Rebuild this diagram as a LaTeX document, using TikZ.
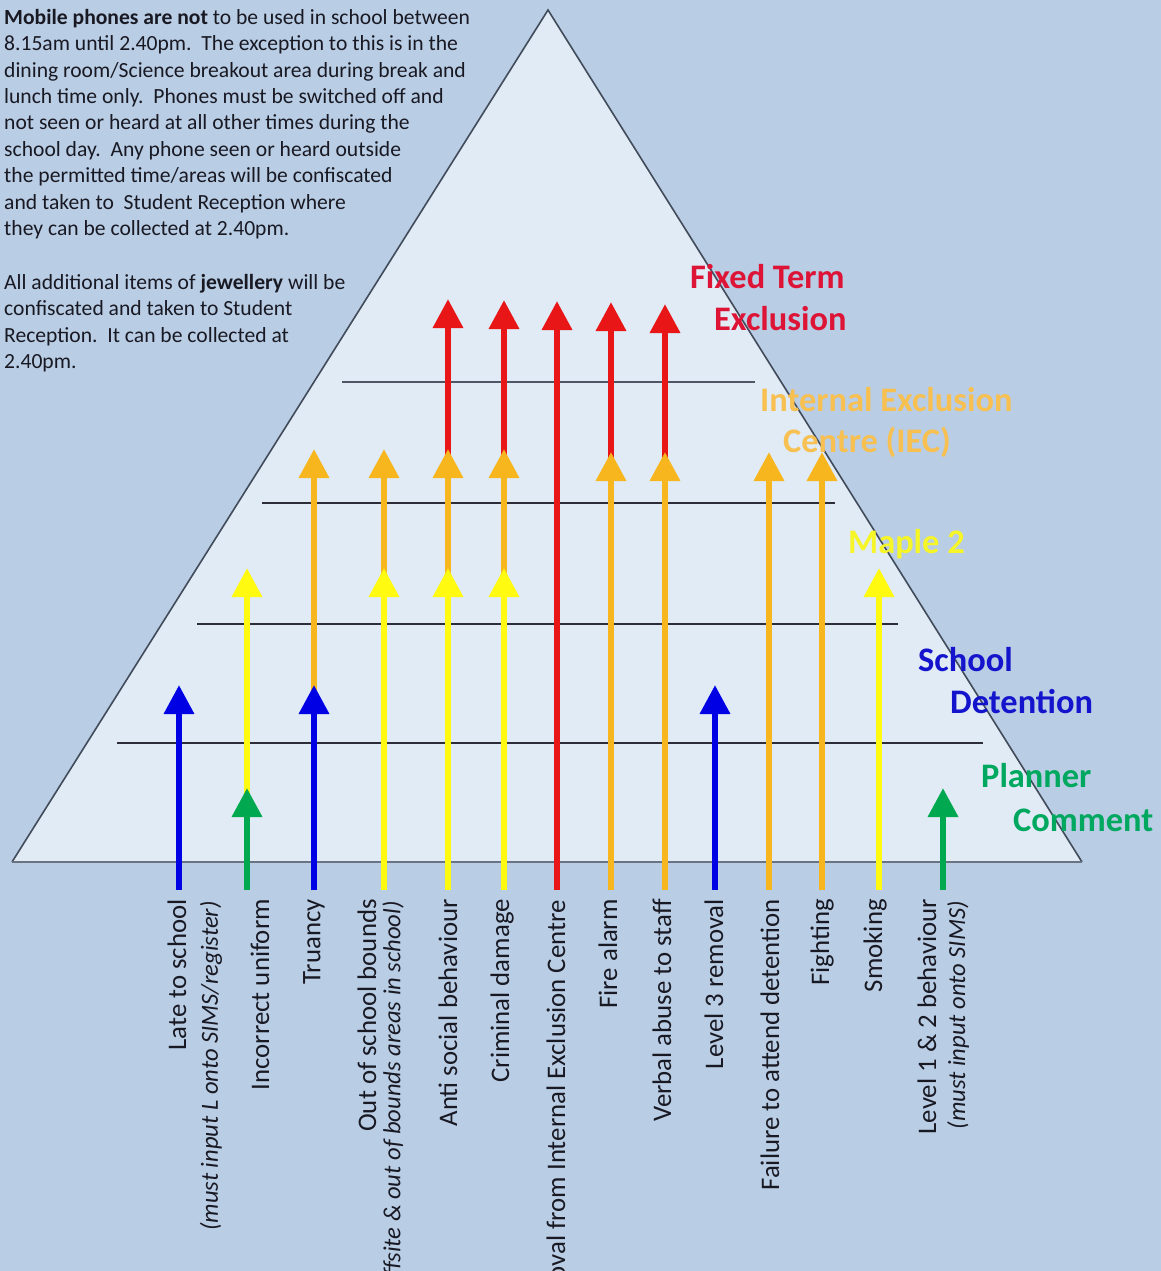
\documentclass[tikz,border=0pt]{standalone}
\usepackage{fontspec}
\setmainfont{Carlito}
\usetikzlibrary{arrows.meta}
\definecolor{bgblue}{RGB}{185,205,229}
\definecolor{trifill}{RGB}{224,235,246}
\definecolor{triedge}{RGB}{65,75,90}
\definecolor{baseedge}{RGB}{105,115,130}
\definecolor{divline}{RGB}{45,45,55}
\definecolor{cred}{RGB}{232,22,22}
\definecolor{corange}{RGB}{248,182,30}
\definecolor{cyellow}{RGB}{255,250,15}
\definecolor{cblue}{RGB}{0,0,228}
\definecolor{cgreen}{RGB}{0,168,80}
\definecolor{tred}{RGB}{222,20,55}
\definecolor{torange}{RGB}{247,192,80}
\definecolor{tyellow}{RGB}{245,245,40}
\definecolor{tblue}{RGB}{20,20,205}
\definecolor{tgreen}{RGB}{0,168,95}
\definecolor{ctext}{RGB}{25,25,35}
\begin{document}
\begin{tikzpicture}[x=1pt,y=-1pt,
  stem/.style={line width=6.5pt,-{Triangle[width=29pt,length=29pt]}},
  ared/.style={stem,draw=cred},
  aorange/.style={stem,draw=corange},
  ayellow/.style={stem,draw=cyellow},
  ablue/.style={stem,draw=cblue},
  agreen/.style={stem,draw=cgreen},
  divider/.style={draw=divline,line width=1.6pt},
  lvl/.style={anchor=base west,inner sep=0,font=\fontsize{34.4}{41}\selectfont\bfseries},
  blab/.style={rotate=90,anchor=east,inner sep=0,font=\fontsize{26.8}{32}\selectfont,text=ctext},
  bital/.style={blab,font=\fontsize{24.6}{30}\selectfont\itshape}]
\path[use as bounding box,fill=bgblue] (0,0) rectangle (1161,1271);
\clip (0,0) rectangle (1161,1271);

% pyramid
\coordinate (apex) at (548,10);
\coordinate (bl) at (12,862);
\coordinate (br) at (1082,862);
\fill[trifill] (apex) -- (br) -- (bl) -- cycle;
\draw[triedge,line width=1.6pt] (bl) -- (apex) -- (br);
\draw[baseedge,line width=2.6pt] (bl) -- (br);

% level dividers
\coordinate (d1l) at (342,382); \coordinate (d1r) at (755,382);
\coordinate (d2l) at (262,503); \coordinate (d2r) at (835,503);
\coordinate (d3l) at (197,624); \coordinate (d3r) at (898,624);
\coordinate (d4l) at (117,743); \coordinate (d4r) at (983,743);
\draw[divider,draw=divline!75!bgblue] (d1l) -- (d1r);
\draw[divider] (d2l) -- (d2r);
\draw[divider] (d3l) -- (d3r);
\draw[divider] (d4l) -- (d4r);

% arrow bases
\foreach \n/\x in {1/179,2/247,3/314,4/384,5/448,6/504,7/557,8/611,9/665,10/715,11/769,12/822,13/879,14/943}
  \coordinate (b\n) at (\x,890);
% tips
\coordinate (t1b) at (179,685);
\coordinate (t2y) at (247,568);  \coordinate (t2g) at (247,788);
\coordinate (t3o) at (314,449);  \coordinate (t3b) at (314,685);
\coordinate (t4o) at (384,449);  \coordinate (t4y) at (384,568);
\coordinate (t5r) at (448,299);  \coordinate (t5o) at (448,449); \coordinate (t5y) at (448,568);
\coordinate (t6r) at (504,300);  \coordinate (t6o) at (504,449); \coordinate (t6y) at (504,568);
\coordinate (t7r) at (557,301);
\coordinate (t8r) at (611,302);  \coordinate (t8o) at (611,452);
\coordinate (t9r) at (665,304);  \coordinate (t9o) at (665,452);
\coordinate (t10b) at (715,685);
\coordinate (t11o) at (769,452);
\coordinate (t12o) at (822,452);
\coordinate (t13y) at (879,568);
\coordinate (t14g) at (943,788);

\draw[ablue] (b1) -- (t1b);
\draw[ayellow] (b2) -- (t2y);
\draw[agreen] (b2) -- (t2g);
\draw[aorange] (b3) -- (t3o);
\draw[ablue] (b3) -- (t3b);
\draw[aorange] (b4) -- (t4o);
\draw[ayellow] (b4) -- (t4y);
\draw[ared] (b5) -- (t5r);
\draw[aorange] (b5) -- (t5o);
\draw[ayellow] (b5) -- (t5y);
\draw[ared] (b6) -- (t6r);
\draw[aorange] (b6) -- (t6o);
\draw[ayellow] (b6) -- (t6y);
\draw[ared] (b7) -- (t7r);
\draw[ared] (b8) -- (t8r);
\draw[aorange] (b8) -- (t8o);
\draw[ared] (b9) -- (t9r);
\draw[aorange] (b9) -- (t9o);
\draw[ablue] (b10) -- (t10b);
\draw[aorange] (b11) -- (t11o);
\draw[aorange] (b12) -- (t12o);
\draw[ayellow] (b13) -- (t13y);
\draw[agreen] (b14) -- (t14g);

% level labels
\node[lvl,text=tred] (fte1) at (690,288) {Fixed Term};
\node[lvl,text=tred] (fte2) at (714,330) {Exclusion};
\node[lvl,text=torange] (iec1) at (760,411) {Internal Exclusion};
\node[lvl,text=torange] (iec2) at (783,452) {Centre (IEC)};
\node[lvl,text=tyellow] (maple) at (848,553) {Maple 2};
\node[lvl,text=tblue] (det1) at (918,671) {School};
\node[lvl,text=tblue] (det2) at (950,713) {Detention};
\node[lvl,text=tgreen] (pc1) at (981,787) {Planner};
\node[lvl,text=tgreen] (pc2) at (1013,831) {Comment};

% behaviour labels
\node[blab] (l1) at (177,899) {Late to school};
\node[bital] (l1b) at (211,901) {(must input L onto SIMS/register)};
\node[blab] (l2) at (260,899) {Incorrect uniform};
\node[blab] (l3) at (314,899) {Truancy};
\node[blab] (l4) at (367,899) {Out of school bounds};
\node[bital] (l4b) at (393,901) {(offsite \& out of bounds areas in school)};
\node[blab] (l5) at (448,899) {Anti social behaviour};
\node[blab] (l6) at (502,899) {Criminal damage};
\node[blab] (l7) at (556,900) {Removal from Internal Exclusion Centre};
\node[blab] (l8) at (608,899) {Fire alarm};
\node[blab] (l9) at (662,899) {Verbal abuse to staff};
\node[blab] (l10) at (714,899) {Level 3 removal};
\node[blab] (l11) at (770,899) {Failure to attend detention};
\node[blab] (l12) at (822,899) {Fighting};
\node[blab] (l13) at (875,899) {Smoking};
\node[blab] (l14) at (927,899) {Level 1 \& 2 behaviour};
\node[bital] (l14b) at (958,901) {(must input onto SIMS)};

% rules text
\node[anchor=north west,inner sep=0,align=left,text=ctext,
      font=\fontsize{21.6}{26.4}\selectfont] (rules) at (4,9)
{\textbf{Mobile phones are not} to be used in school between\\
8.15am until 2.40pm.\ \ The exception to this is in the\\
dining room/Science breakout area during break and\\
lunch time only.\ \ Phones must be switched off and\\
not seen or heard at all other times during the\\
school day.\ \ Any phone seen or heard outside\\
the permitted time/areas will be confiscated\\
and taken to\ \ Student Reception where\\
they can be collected at 2.40pm.\\[27.4pt]
All additional items of \textbf{jewellery} will be\\
confiscated and taken to Student\\
Reception.\ \ It can be collected at\\
2.40pm.};
\end{tikzpicture}
\end{document}
